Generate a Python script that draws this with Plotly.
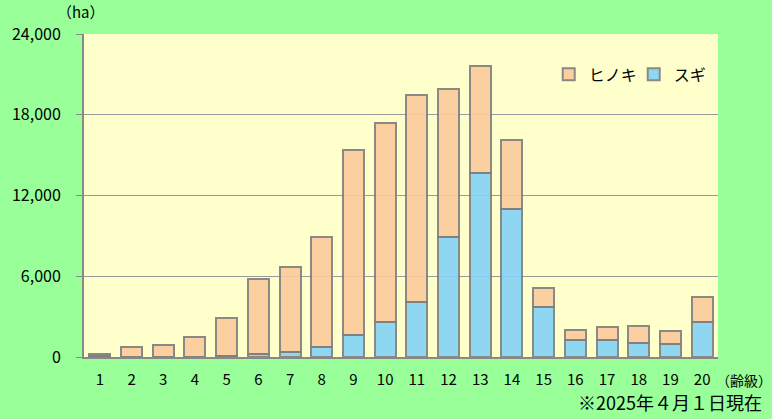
import plotly.graph_objects as go

age_classes = [str(i) for i in range(1, 21)]
total = [190, 743, 890, 1456, 2920, 5766, 6657, 8916, 15350, 17386,
         19437, 19935, 21592, 16145, 5104, 1984, 2207, 2281, 1961, 4436]
sugi = [40, 10, 10, 20, 110, 190, 370, 765, 1605, 2623,
        4057, 8916, 13671, 11019, 3693, 1263, 1263, 1070, 966, 2600]
hinoki = [t - s for t, s in zip(total, sugi)]
y_ticks = [0, 6000, 12000, 18000, 24000]
y_tick_text = ["0", "6,000", "12,000", "18,000", "24,000"]

font_family = "Noto Sans CJK JP"

fig = go.Figure()
fig.add_trace(go.Bar(
    x=age_classes, y=sugi, name="スギ",
    marker=dict(color="#86D3F4", line=dict(color="#808080", width=2)),
    opacity=0.92,
))
fig.add_trace(go.Bar(
    x=age_classes, y=hinoki, name="ヒノキ",
    marker=dict(color="#FBCB9C", line=dict(color="#808080", width=2)),
    opacity=0.92,
))

fig.update_layout(
    width=772, height=419,
    barmode="stack", bargap=0.34,
    paper_bgcolor="#99FF99", plot_bgcolor="#FFFFCC",
    margin=dict(l=81, r=54, t=34, b=62),
    font=dict(family=font_family, size=15, color="#000000"),
    showlegend=True,
    legend=dict(
        orientation="h", traceorder="reversed",
        x=0.733, y=0.875, xanchor="left", yanchor="middle",
        bgcolor="rgba(0,0,0,0)", font=dict(size=16, family=font_family),
        itemwidth=30, entrywidth=40, entrywidthmode="pixels",
    ),
    xaxis=dict(
        showline=True, linecolor="#888888", linewidth=2,
        ticks="", tickfont=dict(size=15), showgrid=False,
        ticklabelstandoff=8,
    ),
    yaxis=dict(
        range=[0, 24000], tickvals=y_ticks, ticktext=y_tick_text,
        showline=True, linecolor="#888888", linewidth=2,
        ticks="outside", ticklen=6, tickcolor="#888888",
        gridcolor="#999999", gridwidth=1,
        tickfont=dict(size=16), zeroline=False,
        ticklabelstandoff=12,
    ),
)

fig.add_annotation(text="（ha）", xref="paper", yref="paper", x=-0.045, y=1.03,
                   xanchor="left", yanchor="bottom", showarrow=False,
                   font=dict(size=15, family=font_family))
fig.add_annotation(text="（齢級）", xref="paper", yref="paper", x=0.993, y=-0.07,
                   xanchor="left", yanchor="middle", showarrow=False,
                   font=dict(size=14, family=font_family))
fig.add_annotation(text="※2025年４月１日現在", xref="paper", yref="paper", x=1.072, y=-0.186,
                   xanchor="right", yanchor="bottom", showarrow=False,
                   font=dict(size=18, family=font_family))

fig.write_html(
    "out.html",
    config={"displayModeBar": False},
    post_script="document.body.style.margin='0';document.body.style.background='#99FF99';",
)
